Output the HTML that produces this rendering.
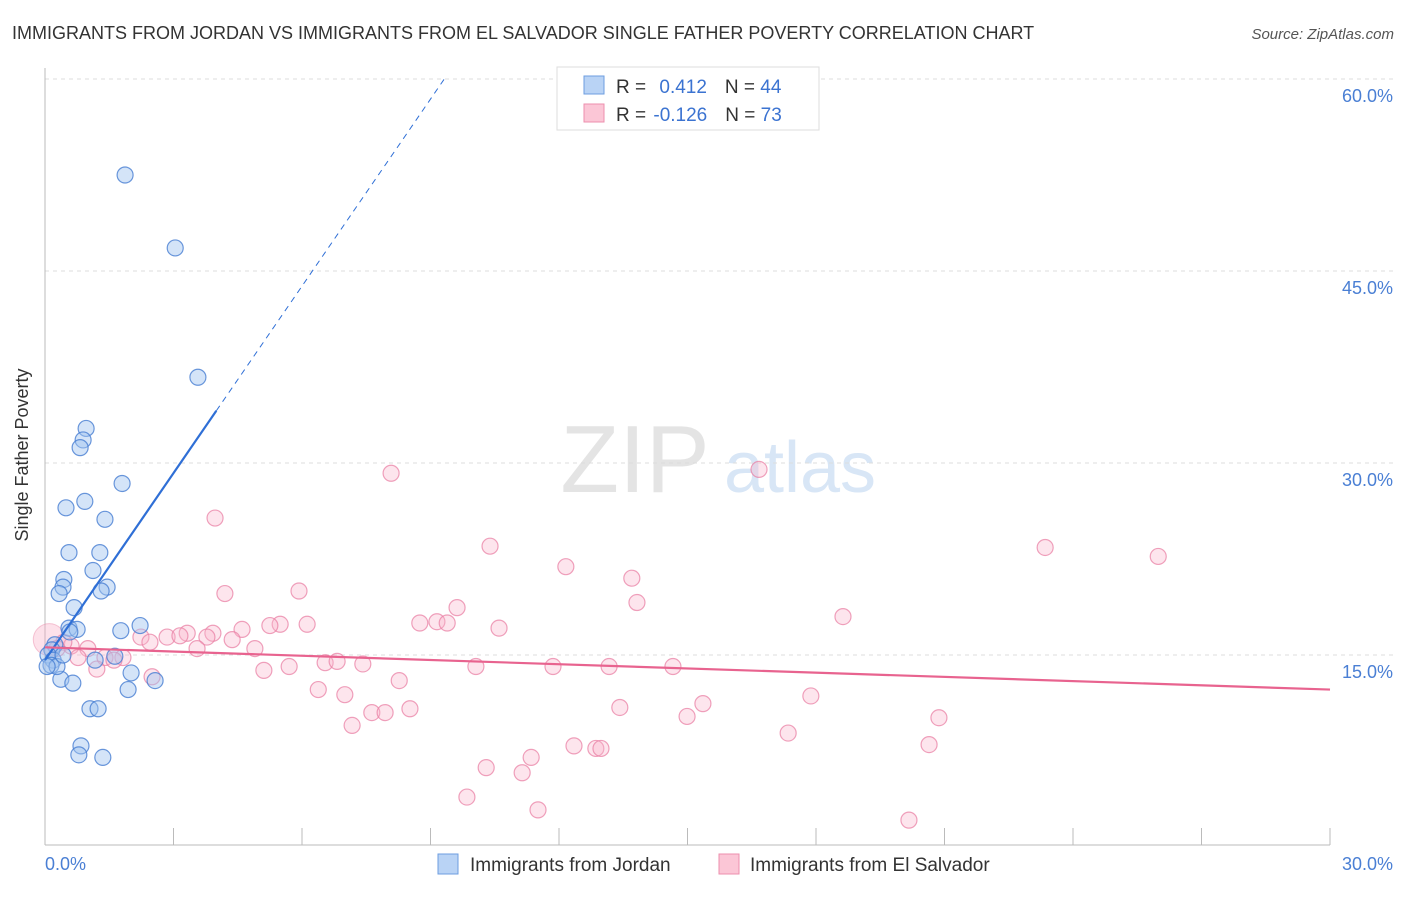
<!DOCTYPE html>
<html><head><meta charset="utf-8"><style>
body{margin:0;background:#fff;font-family:"Liberation Sans",sans-serif;}
svg text{font-family:"Liberation Sans",sans-serif;}
</style></head><body>
<svg width="1406" height="892" xmlns="http://www.w3.org/2000/svg">
<text x="12" y="39" font-size="18" fill="#333">IMMIGRANTS FROM JORDAN VS IMMIGRANTS FROM EL SALVADOR SINGLE FATHER POVERTY CORRELATION CHART</text>
<text x="1394" y="39" font-size="15" fill="#555" font-style="italic" text-anchor="end">Source: ZipAtlas.com</text>
<text x="635" y="492" font-size="96" fill="#e4e4e4" font-family="Liberation Serif" text-anchor="middle">ZIP</text>
<text x="800" y="492" font-size="72" fill="#d8e6f6" text-anchor="middle">atlas</text>
<g id="grid"></g>
<line x1="45" y1="68" x2="45" y2="845" stroke="#bbb"/>
<line x1="45" y1="845" x2="1330" y2="845" stroke="#bbb"/>
<g id="ticks"></g>
<text x="28" y="455" font-size="18" fill="#333" transform="rotate(-90 28 455)" text-anchor="middle">Single Father Poverty</text>
<text x="45" y="870" font-size="18" fill="#4a7fd4">0.0%</text>
<text x="1393" y="870" font-size="18" fill="#4a7fd4" text-anchor="end">30.0%</text>
<g id="pts"></g>
<g id="lines"></g>
<g>
<rect x="557" y="67" width="262" height="63" fill="#fff" stroke="#ddd"/>
<rect x="584" y="76" width="20" height="18" fill="#b9d3f5" stroke="#6d9ee0"/>
<rect x="584" y="104" width="20" height="18" fill="#fbc6d6" stroke="#ec8fae"/>
<text x="616" y="93" font-size="19" fill="#333">R = <tspan fill="#3b73d1" dx="8">0.412</tspan><tspan dx="18">N = </tspan><tspan fill="#3b73d1">44</tspan></text>
<text x="616" y="121" font-size="19" fill="#333">R = <tspan fill="#3b73d1" dx="2">-0.126</tspan><tspan dx="18">N = </tspan><tspan fill="#3b73d1">73</tspan></text>
</g>
<g>
<rect x="438" y="854" width="20" height="20" fill="#b9d3f5" stroke="#6d9ee0"/>
<text x="470" y="871" font-size="19" fill="#333">Immigrants from Jordan</text>
<rect x="719" y="854" width="20" height="20" fill="#fbc6d6" stroke="#ec8fae"/>
<text x="750" y="871" font-size="19" fill="#333">Immigrants from El Salvador</text>
</g>
</svg>
<script>
const yTicks=[15,30,45,60];
const yTickLabels=["15.0%","30.0%","45.0%","60.0%"];
const xTicks=[0,3,6,9,12,15,18,21,24,27,30];
const jordanX=[1.87,3.04,3.57,0.96,0.89,0.82,1.80,0.49,0.93,1.40,0.56,1.28,1.12,0.44,0.42,1.45,1.31,0.33,0.68,0.56,0.75,1.77,2.22,0.58,1.63,0.23,0.16,0.07,0.19,0.14,1.17,0.37,0.65,1.94,2.01,2.57,1.05,1.24,0.84,0.79,1.35,0.28,0.05,0.42];
const jordanY=[52.5,46.8,36.7,32.7,31.8,31.2,28.4,26.5,27.0,25.6,23.0,23.0,21.6,20.9,20.3,20.3,20.0,19.8,18.7,17.1,17.0,16.9,17.3,16.8,14.9,15.8,15.4,15.0,14.6,14.2,14.6,13.1,12.8,12.3,13.6,13.0,10.8,10.8,7.9,7.2,7.0,14.1,14.1,15.0];
const salvX=[8.08,16.67,3.97,10.39,23.35,25.99,12.16,13.70,4.20,5.93,13.82,9.62,18.63,8.75,9.15,9.39,10.60,5.49,6.12,5.25,4.60,3.92,3.32,2.85,3.15,3.78,2.24,4.37,4.90,3.55,2.45,1.00,0.61,0.44,0.28,0.77,1.40,1.82,1.61,1.21,2.50,5.11,5.70,6.54,6.82,7.42,10.06,11.86,13.17,14.66,6.38,7.00,8.27,15.36,17.88,7.63,7.94,8.52,13.42,14.99,20.87,7.17,12.35,12.86,12.98,17.35,20.64,11.35,10.30,11.14,9.85,11.51,20.17];
const salvY=[29.2,29.5,25.7,23.5,23.4,22.7,21.9,21.0,19.8,20.0,19.1,18.7,18.0,17.5,17.6,17.5,17.1,17.4,17.4,17.3,17.0,16.7,16.7,16.4,16.5,16.4,16.4,16.2,15.5,15.5,16.0,15.5,15.7,16.0,15.5,14.8,14.8,14.8,14.6,13.9,13.3,13.8,14.1,14.4,14.5,14.3,14.1,14.1,14.1,14.1,12.3,11.9,13.0,11.2,11.8,10.5,10.5,10.8,10.9,10.2,10.1,9.5,7.9,7.7,7.7,8.9,8.0,7.0,6.2,5.8,3.9,2.9,2.1];
const X=v=>45+v/30*1285, Y=v=>847-v*12.8;
const NS="http://www.w3.org/2000/svg";
function mk(t,a,p){const e=document.createElementNS(NS,t);for(const k in a)e.setAttribute(k,a[k]);p.appendChild(e);return e;}
const grid=document.getElementById('grid');
yTicks.forEach((t,i)=>{
 const l=mk('line',{x1:45,x2:1394,y1:Y(t),y2:Y(t),stroke:'#ddd','stroke-dasharray':'4,4'},grid);
 
 
 const tx=mk('text',{x:1393,y:Y(t)+23,'font-size':18,fill:'#4a7fd4','text-anchor':'end'},grid);
 tx.textContent=yTickLabels[i];
 
 
});
const tk=document.getElementById('ticks');
xTicks.forEach(t=>{
 const l=mk('line',{x1:X(t),x2:X(t),y1:828,y2:845,stroke:'#bbb'},tk);
 
 
});
const pts=document.getElementById('pts');
mk('circle',{cx:X(0.1),cy:Y(16.2),r:16,fill:'rgba(248,170,195,0.35)',stroke:'rgba(236,143,174,0.5)'},pts);
salvX.forEach((x,i)=>{
 const c=mk('circle',{cx:X(x),cy:Y(salvY[i]),r:8,fill:'rgba(248,180,202,0.35)',stroke:'rgba(234,130,165,0.75)','stroke-width':1.2},pts);
 
 
});
jordanX.forEach((x,i)=>{
 const c=mk('circle',{cx:X(x),cy:Y(jordanY[i]),r:8,fill:'rgba(160,195,240,0.45)',stroke:'rgba(70,125,210,0.8)','stroke-width':1.2},pts);
 
 
});
const ln=document.getElementById('lines');
const bI=14.6,bS=4.87,pI=15.6,pS=-0.11;
const b1=mk('line',{x1:X(0),y1:Y(bI),x2:X(4),y2:Y(bI+bS*4),stroke:'#2f6fd6','stroke-width':2.2},ln);


const xe=(60-bI)/bS;
const b2=mk('line',{x1:X(4),y1:Y(bI+bS*4),x2:X(xe),y2:Y(60),stroke:'#2f6fd6','stroke-width':1,'stroke-dasharray':'6,5'},ln);


const p1=mk('line',{x1:X(0),y1:Y(pI),x2:X(30),y2:Y(pI+pS*30),stroke:'#e8638f','stroke-width':2.2},ln);


</script>
</body></html>
